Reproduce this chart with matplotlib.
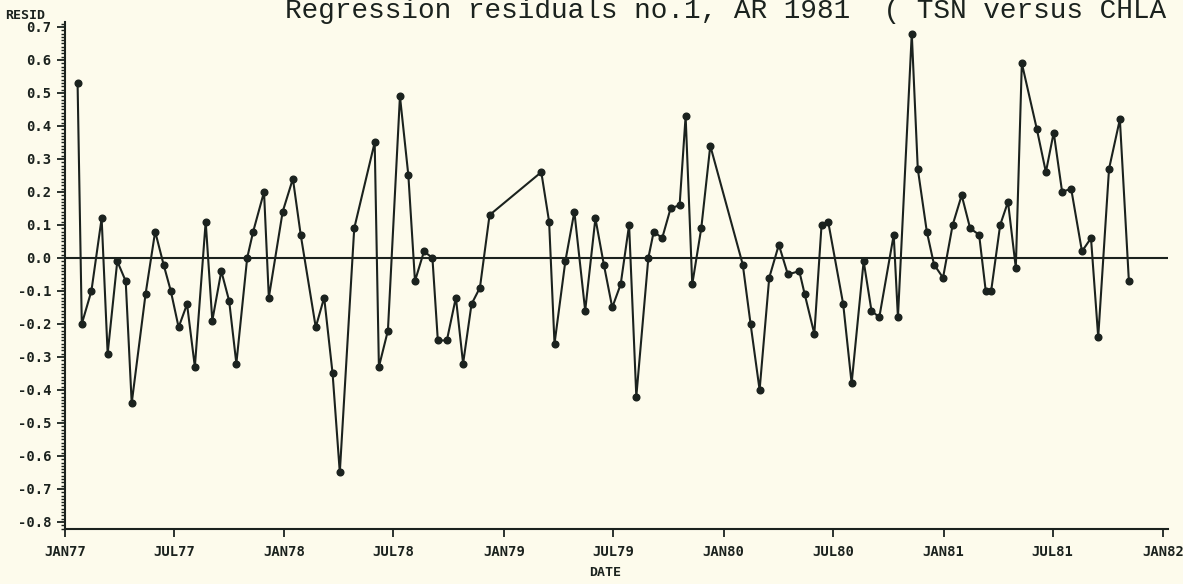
import matplotlib
matplotlib.use("Agg")
import matplotlib.pyplot as plt
import matplotlib.dates as mdates
from matplotlib.ticker import FixedLocator, MultipleLocator, FuncFormatter
import pandas as pd

# fechas de muestreo y residuos del modelo
fechas = [
    "1977-01-22", "1977-01-29", "1977-02-14", "1977-03-03", "1977-03-13", "1977-03-29",
    "1977-04-12", "1977-04-22", "1977-05-15", "1977-05-31", "1977-06-14", "1977-06-26",
    "1977-07-09", "1977-07-23", "1977-08-05", "1977-08-23", "1977-09-03", "1977-09-18",
    "1977-10-01", "1977-10-13", "1977-10-31", "1977-11-10", "1977-11-28", "1977-12-06",
    "1977-12-29", "1978-01-15", "1978-01-28", "1978-02-22", "1978-03-08", "1978-03-22",
    "1978-04-03", "1978-04-27", "1978-05-31", "1978-06-07", "1978-06-22", "1978-07-12",
    "1978-07-26", "1978-08-06", "1978-08-21", "1978-09-04", "1978-09-13", "1978-09-28",
    "1978-10-13", "1978-10-25", "1978-11-08", "1978-11-22", "1978-12-08", "1979-03-04",
    "1979-03-17", "1979-03-26", "1979-04-13", "1979-04-28", "1979-05-16", "1979-06-02",
    "1979-06-16", "1979-06-30", "1979-07-14", "1979-07-28", "1979-08-09", "1979-08-29",
    "1979-09-07", "1979-09-21", "1979-10-05", "1979-10-20", "1979-10-30", "1979-11-10",
    "1979-11-25", "1979-12-10", "1980-02-02", "1980-02-15", "1980-03-01", "1980-03-17",
    "1980-04-02", "1980-04-17", "1980-05-06", "1980-05-15", "1980-05-31", "1980-06-12",
    "1980-06-23", "1980-07-18", "1980-08-01", "1980-08-21", "1980-09-03", "1980-09-16",
    "1980-10-10", "1980-10-17", "1980-11-09", "1980-11-19", "1980-12-04", "1980-12-16",
    "1980-12-31", "1981-01-16", "1981-01-31", "1981-02-14", "1981-03-01", "1981-03-12",
    "1981-03-21", "1981-04-05", "1981-04-18", "1981-05-01", "1981-05-11", "1981-06-05",
    "1981-06-20", "1981-07-03", "1981-07-17", "1981-08-01", "1981-08-19", "1981-09-03",
    "1981-09-15", "1981-10-03", "1981-10-21", "1981-11-05",
]

resid = [
    0.53, -0.20, -0.10, 0.12, -0.29, -0.01,
    -0.07, -0.44, -0.11, 0.08, -0.02, -0.10,
    -0.21, -0.14, -0.33, 0.11, -0.19, -0.04,
    -0.13, -0.32, 0.00, 0.08, 0.20, -0.12,
    0.14, 0.24, 0.07, -0.21, -0.12, -0.35,
    -0.65, 0.09, 0.35, -0.33, -0.22, 0.49,
    0.25, -0.07, 0.02, 0.00, -0.25, -0.25,
    -0.12, -0.32, -0.14, -0.09, 0.13, 0.26,
    0.11, -0.26, -0.01, 0.14, -0.16, 0.12,
    -0.02, -0.15, -0.08, 0.10, -0.42, 0.00,
    0.08, 0.06, 0.15, 0.16, 0.43, -0.08,
    0.09, 0.34, -0.02, -0.20, -0.40, -0.06,
    0.04, -0.05, -0.04, -0.11, -0.23, 0.10,
    0.11, -0.14, -0.38, -0.01, -0.16, -0.18,
    0.07, -0.18, 0.68, 0.27, 0.08, -0.02,
    -0.06, 0.10, 0.19, 0.09, 0.07, -0.10,
    -0.10, 0.10, 0.17, -0.03, 0.59, 0.39,
    0.26, 0.38, 0.20, 0.21, 0.02, 0.06,
    -0.24, 0.27, 0.42, -0.07,
]

marcas_y = [-0.8, -0.7, -0.6, -0.5, -0.4, -0.3, -0.2, -0.1, 0.0, 0.1, 0.2, 0.3, 0.4, 0.5, 0.6, 0.7]
marcas_x = ["1977-01-01", "1977-07-01", "1978-01-01", "1978-07-01", "1979-01-01", "1979-07-01",
            "1980-01-01", "1980-07-01", "1981-01-01", "1981-07-01", "1982-01-01"]

titulo = "Regression residuals no.1, AR 1981  ( TSN versus CHLA"

FONDO = "#fdfbec"
TINTA = "#1b221e"
LETRA = "DejaVu Sans Mono"


def etiquetaFecha(valor, pos):
    # formato tipo JAN77, JUL77 ...
    return mdates.num2date(valor).strftime("%b%y").upper()


def etiquetaResid(valor, pos):
    return f"{round(valor, 1) + 0.0:.1f}"


def mostrarGrafica():
    fig = plt.figure(figsize=(11.83, 5.84), dpi=100, facecolor=FONDO)
    ax = fig.add_axes([0.0549, 0.0949, 0.9324, 0.8675])
    ax.set_facecolor(FONDO)

    x = pd.to_datetime(fechas)

    # linea de referencia en cero y la serie de residuos
    ax.axhline(0.0, color=TINTA, lw=1.5, zorder=2)
    ax.plot(x, resid, "-o", color=TINTA, lw=1.5, ms=4.8, zorder=3)

    ax.set_xlim(pd.Timestamp("1977-01-01"), pd.Timestamp("1982-01-09"))
    ax.set_ylim(-0.82, 0.715)

    for lado in ["top", "right"]:
        ax.spines[lado].set_visible(False)
    for lado in ["left", "bottom"]:
        ax.spines[lado].set_linewidth(1.5)
        ax.spines[lado].set_color(TINTA)

    ax.xaxis.set_major_locator(FixedLocator(mdates.date2num(pd.to_datetime(marcas_x))))
    ax.xaxis.set_major_formatter(FuncFormatter(etiquetaFecha))
    ax.yaxis.set_major_locator(FixedLocator(marcas_y))
    ax.yaxis.set_major_formatter(FuncFormatter(etiquetaResid))
    ax.yaxis.set_minor_locator(MultipleLocator(0.01))

    ax.tick_params(axis="both", which="major", direction="out", length=6, width=1.3,
                   color=TINTA, labelcolor=TINTA, pad=4)
    ax.tick_params(axis="y", which="minor", direction="out", length=3, width=1.0, color=TINTA)
    ax.tick_params(axis="x", pad=6)

    for t in ax.get_xticklabels() + ax.get_yticklabels():
        t.set_fontfamily(LETRA)
        t.set_fontweight("bold")
        t.set_fontsize(10)

    # textos sueltos de la pagina
    fig.text(5 / 1183, 1 - 19 / 584, "RESID", family=LETRA, weight="bold",
             fontsize=9.5, color=TINTA, ha="left", va="baseline")
    fig.text(605 / 1183, 11 / 584, "DATE", family=LETRA, weight="bold",
             fontsize=9.5, color=TINTA, ha="center", va="center")
    fig.text(285 / 1183, 1 - 18 / 584, titulo, family="Liberation Mono",
             fontsize=20, color=TINTA, ha="left", va="baseline")

    fig.savefig("out.png", dpi=100, facecolor=FONDO)


if __name__ == "__main__":
    mostrarGrafica()
